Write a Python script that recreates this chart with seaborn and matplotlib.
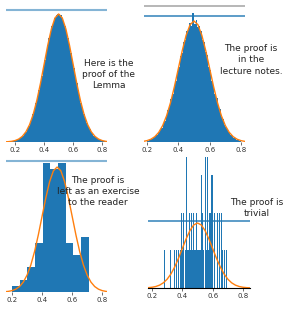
import numpy as np
import matplotlib
matplotlib.use("Agg")
import matplotlib.pyplot as plt
import seaborn as sns

# ---- data ----
# top left: fine histogram (density per 0.01 bin, 0.15 .. 0.85)
tl_density = [0.010, 0.015, 0.020, 0.028, 0.038, 0.051, 0.069, 0.091, 0.119, 0.154,
              0.198, 0.252, 0.317, 0.395, 0.488, 0.596, 0.721, 0.863, 1.023, 1.200,
              1.394, 1.604, 1.826, 2.059, 2.299, 2.540, 2.780, 3.011, 3.230, 3.429,
              3.605, 3.752, 3.867, 3.945, 3.990, 3.980, 3.945, 3.867, 3.752, 3.605,
              3.429, 3.230, 3.011, 2.780, 2.540, 2.299, 2.059, 1.826, 1.604, 1.394,
              1.200, 1.023, 0.863, 0.721, 0.596, 0.488, 0.395, 0.317, 0.252, 0.198,
              0.154, 0.119, 0.091, 0.069, 0.051, 0.038, 0.028, 0.020, 0.015, 0.010]

# top right: noisier histogram (density per 0.01 bin, 0.20 .. 0.80)
tr_density = [0.04, 0.08, 0.09, 0.10, 0.17, 0.21, 0.23, 0.33, 0.41, 0.47,
              0.62, 0.70, 0.90, 1.05, 1.16, 1.43, 1.58, 1.87, 2.02, 2.35,
              2.49, 2.84, 2.95, 3.30, 3.38, 3.68, 3.70, 3.92, 3.85, 4.25,
              3.90, 4.02, 3.80, 3.85, 3.66, 3.38, 3.31, 2.96, 2.86, 2.49,
              2.38, 2.01, 1.90, 1.57, 1.45, 1.16, 1.08, 0.84, 0.76, 0.57,
              0.51, 0.38, 0.34, 0.24, 0.21, 0.14, 0.13, 0.08, 0.07, 0.04]

# bottom left: 10 bins between 0.20 and 0.71 (counts)
bl_counts = [1, 2, 4, 8, 21, 20, 21, 8, 6, 9]

# bottom right: 120 bins between 0.20 and 0.72 (counts)
br_counts = [0, 0, 0, 0, 0, 0, 0, 0, 0, 0, 0, 0, 0, 0, 0, 0, 0, 0, 0, 1,
             0, 0, 0, 0, 1, 0, 0, 0, 1, 0, 1, 0, 0, 0, 1, 0, 0, 1, 0, 1,
             1, 0, 1, 1, 2, 0, 1, 2, 1, 0, 1, 2, 4, 2, 1, 1, 0, 2, 1, 1,
             2, 1, 0, 2, 1, 1, 1, 2, 0, 1, 1, 4, 1, 1, 1, 3, 2, 3, 1, 0,
             1, 4, 1, 1, 4, 1, 0, 2, 0, 2, 3, 2, 3, 0, 4, 2, 0, 1, 0, 2,
             1, 0, 2, 0, 0, 2, 0, 1, 0, 0, 1, 0, 0, 1, 0, 0, 0, 0, 0, 0]

# fitted normal curve (same in every panel)
curve_x = [0.100, 0.125, 0.150, 0.175, 0.200, 0.225, 0.250, 0.275, 0.300, 0.325, 0.350,
           0.375, 0.400, 0.425, 0.450, 0.475, 0.500, 0.525, 0.550, 0.575, 0.600, 0.625,
           0.650, 0.675, 0.700, 0.725, 0.750, 0.775, 0.800, 0.825, 0.850, 0.875, 0.900]
curve_y = [0.0013, 0.0035, 0.0087, 0.020, 0.044, 0.091, 0.175, 0.317, 0.540, 0.863, 1.295,
           1.826, 2.420, 3.011, 3.521, 3.867, 3.989, 3.867, 3.521, 3.011, 2.420, 1.826,
           1.295, 0.863, 0.540, 0.317, 0.175, 0.091, 0.044, 0.020, 0.0087, 0.0035, 0.0013]

texts = ["Here is the\nproof of the\nLemma",
         "The proof is\nin the\nlecture notes.",
         "The proof is\nleft as an exercise\nto the reader",
         "The proof is\ntrivial"]

ticks = [0.2, 0.4, 0.6, 0.8]
tick_labels = ["0.2", "0.4", "0.6", "0.8"]

blue = "#1f77b4"
orange = "#ff7f0e"

fig = plt.figure(figsize=(2.88, 3.09), dpi=100)
ax_tl = fig.add_axes([0.021, 0.5405, 0.351, 0.4466])
ax_tr = fig.add_axes([0.500, 0.5405, 0.351, 0.4466])
ax_bl = fig.add_axes([0.021, 0.055, 0.351, 0.437])
ax_br = fig.add_axes([0.514, 0.068, 0.354, 0.424])


def draw_hist(ax, values, nbins, lo, hi):
    centers = np.linspace(lo, hi, nbins + 1)[:-1] + (hi - lo) / nbins / 2
    sns.histplot(x=centers, weights=values, bins=nbins, binrange=(lo, hi),
                 stat="density", color=blue, alpha=1, linewidth=0, ax=ax)
    sns.lineplot(x=curve_x, y=curve_y, color=orange, linewidth=1.0, ax=ax)


draw_hist(ax_tl, tl_density, 70, 0.15, 0.85)
draw_hist(ax_tr, tr_density, 60, 0.20, 0.80)
draw_hist(ax_bl, bl_counts, 10, 0.20, 0.71)
draw_hist(ax_br, br_counts, 120, 0.20, 0.72)

ax_tl.set_xlim(0.138, 0.834)
ax_tl.set_ylim(0, 4.30)
ax_tl.axhline(4.11, color=blue, alpha=0.55, linewidth=1.5)

ax_tr.set_xlim(0.181, 0.826)
ax_tr.set_ylim(0, 4.55)
ax_tr.axhline(4.15, color=blue, alpha=0.85, linewidth=1.2)
ax_tr.axhline(4.49, color="#aaaaaa", linewidth=1.2)

ax_bl.set_xlim(0.16, 0.833)
ax_bl.set_ylim(0, 4.31)
ax_bl.axhline(4.19, color=blue, alpha=0.55, linewidth=1.5)

ax_br.set_xlim(0.174, 0.846)
ax_br.set_ylim(0, 8.04)
ax_br.axhline(4.11, color=blue, alpha=0.85, linewidth=1.2)

for ax in [ax_tl, ax_tr, ax_bl, ax_br]:
    ax.set_xlabel("")
    ax.set_ylabel("")
    ax.set_yticks([])
    ax.set_xticks(ticks)
    ax.set_xticklabels(tick_labels)
    ax.tick_params(axis="x", labelsize=5, length=2, width=0.5, pad=1.5, colors="#333333")
    for side in ["top", "right", "left", "bottom"]:
        ax.spines[side].set_visible(False)
ax_br.spines["bottom"].set_visible(True)
ax_br.spines["bottom"].set_linewidth(0.8)

text_pos = [(0.378, 0.760), (0.872, 0.806), (0.340, 0.379), (0.892, 0.327)]
for (tx, ty), s in zip(text_pos, texts):
    fig.text(tx, ty, s, ha="center", va="center", fontsize=6.5,
             linespacing=1.3, color="#222222")

plt.savefig("out.png", dpi=100)
